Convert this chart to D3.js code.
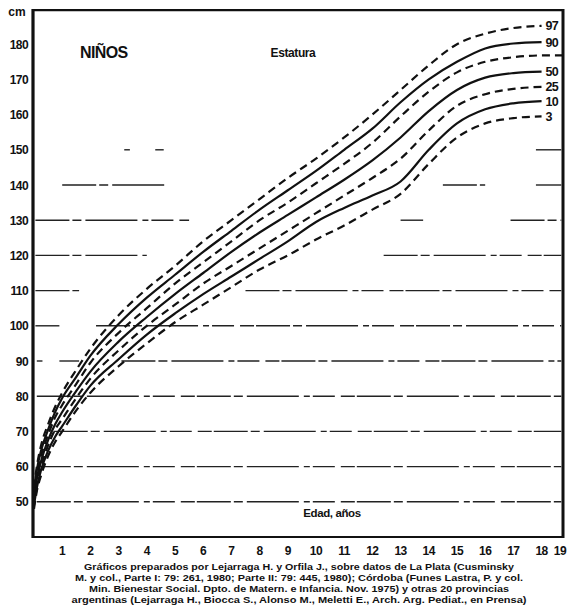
<!DOCTYPE html>
<html><head><meta charset="utf-8">
<script src="https://cdn.jsdelivr.net/npm/d3@7"></script>
<style>
html,body{margin:0;padding:0;background:#fff;}
svg{display:block;font-family:"Liberation Sans",Arial,sans-serif;}
</style></head>
<body><svg id="c" width="568" height="611"></svg>
<script>
// ---------- data ----------
const ages = [0, 0.1, 0.25, 0.5, 0.75, 1, 1.5, 2, 3, 4, 5, 6, 7, 8, 9, 10, 11, 12, 13, 14, 15, 16, 17, 18];
const p3  = [48, 53, 57.5, 63, 67, 70, 76, 81, 88.5, 95, 101, 106, 111, 116, 120, 124.5, 128.5, 133, 137.5, 146, 153.5, 157.5, 159, 159.5];
const p10 = [49, 54, 59, 64.5, 68.5, 71.5, 77.5, 83, 90.5, 97.5, 103.5, 109, 114, 119, 124, 129.5, 133.5, 137, 141, 150, 157.5, 161.5, 163.2, 163.8];
const p25 = [50, 55.5, 60, 66, 70.5, 73.5, 79.5, 85, 93, 100, 106, 112, 117, 122, 127, 132, 137, 142, 147.5, 155.5, 162.5, 165.8, 167.3, 167.9];
const p50 = [51, 56.5, 61.5, 67.5, 72, 75.5, 81.5, 87, 95.5, 102.5, 109, 115, 121, 126.5, 131.5, 136.5, 141.5, 147, 153.5, 161, 167, 170.5, 171.8, 172.2];
const p75 = [52, 58, 63, 69, 74, 77.5, 83.5, 89.5, 98, 105, 112, 118, 124, 130, 135, 140.5, 146, 152, 159.5, 166.5, 172, 175, 176.3, 176.8];
const p90 = [53, 59, 64.5, 70.5, 75.5, 79.5, 85.5, 91.5, 100.5, 108, 114.5, 121, 127, 133, 138.5, 144, 150, 156, 163.5, 170, 175, 178.8, 180.2, 180.6];
const p97 = [54, 60, 66, 72, 77, 81, 87.5, 93.5, 103, 110.5, 117, 124, 130, 136, 142, 147.5, 153.5, 160, 167, 174, 180, 183, 184.6, 185.2];
const percentileNames = ["3", "10", "25", "50", "75", "90", "97"];
const percentileLabels = ["3", "10", "25", "50", "", "90", "97"];
const percentileDashed = [true, false, true, false, true, false, true];
const xTicks = [1,2,3,4,5,6,7,8,9,10,11,12,13,14,15,16,17,18,19];
const yTicks = [50,60,70,80,90,100,110,120,130,140,150,160,170,180];
// broken reference lines of the printed grid: [cm, age from, age to]
const gridSegments = [
  [50, 0.1, 18.7], [60, 0.1, 18.7], [70, 0.7, 18.7], [80, 0.1, 18.7],
  [90, 0.1, 0.3], [90, 0.9, 1.6], [90, 3.1, 18.7],
  [100, 0.05, 0.9], [100, 2.2, 18.7],
  [110, 0.05, 1.6], [110, 7.5, 18.7],
  [120, 0.05, 4.0], [120, 12.4, 18.7],
  [130, 0.05, 5.5], [130, 13.0, 13.8], [130, 16.9, 18.7],
  [140, 1.0, 4.7], [140, 14.5, 16.0], [140, 17.8, 18.7],
  [150, 3.2, 3.4], [150, 4.3, 4.6], [150, 17.8, 18.7]
];
const creditLines = [
  "Gráficos preparados por Lejarraga H. y Orfila J., sobre datos de La Plata (Cusminsky",
  "M. y col., Parte I: 79: 261, 1980; Parte II: 79: 445, 1980); Córdoba (Funes Lastra, P. y col.",
  "Min. Bienestar Social. Dpto. de Matern. e Infancia. Nov. 1975) y otras 20 provincias",
  "argentinas (Lejarraga H., Biocca S., Alonso M., Meletti E., Arch. Arg. Pediat., en Prensa)"
];
const creditWidths = [430, 448, 420, 455];

// ---------- scales ----------
const svg = d3.select("#c");
const x = d3.scaleLinear().domain([0, 18.76]).range([34, 563]);
const y = d3.scaleLinear().domain([40, 190]).range([537, 9]);
const ink = "#111";

// grid
svg.append("g").selectAll("line").data(gridSegments).join("line")
  .attr("x1", d => x(d[1])).attr("x2", d => x(d[2]))
  .attr("y1", d => y(d[0])).attr("y2", d => y(d[0]))
  .attr("stroke", "#222").attr("stroke-width", 1.4)
  .attr("stroke-dasharray", "34,3,9,4,52,5,6,3,22,6,14,2");

// frame
const frame = svg.append("g").attr("stroke", ink).attr("fill", "none");
frame.append("line").attr("x1", x(0)).attr("x2", x(18.76)).attr("y1", y(189.7)).attr("y2", y(189.7)).attr("stroke-width", 2.2);
frame.append("line").attr("x1", x(0)).attr("x2", x(18.76)).attr("y1", y(40)).attr("y2", y(40)).attr("stroke-width", 2.2);
frame.append("line").attr("x1", x(0) - 1).attr("x2", x(0) - 1).attr("y1", y(190)).attr("y2", y(40) + 1).attr("stroke-width", 3.2);
frame.append("line").attr("x1", x(18.76)).attr("x2", x(18.76)).attr("y1", y(190)).attr("y2", y(40) + 1).attr("stroke-width", 3);

// y tick labels
svg.append("g").selectAll("text").data(yTicks).join("text")
  .attr("x", 28).attr("y", d => y(d) + 4.5)
  .attr("text-anchor", "end").attr("font-size", 12).attr("font-weight", "bold")
  .attr("letter-spacing", -0.6).attr("fill", ink).text(d => d);
svg.append("text").attr("x", 17).attr("y", 16).attr("text-anchor", "middle")
  .attr("font-size", 12).attr("font-weight", "bold").attr("fill", ink).text("cm");

// x tick labels (last one kept inside the page edge)
svg.append("g").selectAll("text").data(xTicks).join("text")
  .attr("x", d => Math.min(x(d), 560)).attr("y", 555)
  .attr("text-anchor", "middle").attr("font-size", 12).attr("font-weight", "bold")
  .attr("letter-spacing", -0.5).attr("fill", ink).text(d => d);

// curves
const series = [p3, p10, p25, p50, p75, p90, p97];
const line = d3.line().x(d => x(d[0])).y(d => y(d[1])).curve(d3.curveMonotoneX);
series.forEach((vals, i) => {
  const pts = ages.map((a, j) => [a, vals[j]]);
  if (percentileLabels[i] === "") pts.push([18.76, vals[vals.length - 1]]);
  svg.append("path").datum(pts).attr("d", line)
    .attr("fill", "none").attr("stroke", ink).attr("stroke-width", 2.2)
    .attr("stroke-dasharray", percentileDashed[i] ? "8,5" : null)
    .attr("stroke-linecap", "butt");
  if (percentileLabels[i] !== "") {
    svg.append("text").attr("x", x(18) + 4).attr("y", y(vals[vals.length - 1]) + 4.5)
      .attr("font-size", 12.5).attr("font-weight", "bold").attr("letter-spacing", -0.8)
      .attr("fill", ink).text(percentileLabels[i]);
  }
});

// titles
svg.append("text").attr("x", 80).attr("y", 58).attr("font-size", 16).attr("font-weight", "bold")
  .attr("letter-spacing", -0.6).attr("fill", ink).text("NIÑOS");
svg.append("text").attr("x", 293).attr("y", 57).attr("text-anchor", "middle").attr("font-size", 12)
  .attr("font-weight", "bold").attr("letter-spacing", -0.4).attr("fill", ink).text("Estatura");
svg.append("text").attr("x", 332).attr("y", 517).attr("text-anchor", "middle").attr("font-size", 11.5)
  .attr("font-weight", "bold").attr("letter-spacing", -0.4).attr("fill", ink).text("Edad, años");

// credits
svg.append("g").selectAll("text").data(creditLines).join("text")
  .attr("x", 299).attr("y", (d, i) => 569.5 + i * 11.3)
  .attr("text-anchor", "middle").attr("font-size", 9).attr("font-weight", "bold")
  .attr("textLength", (d, i) => creditWidths[i]).attr("lengthAdjust", "spacingAndGlyphs")
  .attr("fill", ink).text(d => d);
</script>
</body></html>
